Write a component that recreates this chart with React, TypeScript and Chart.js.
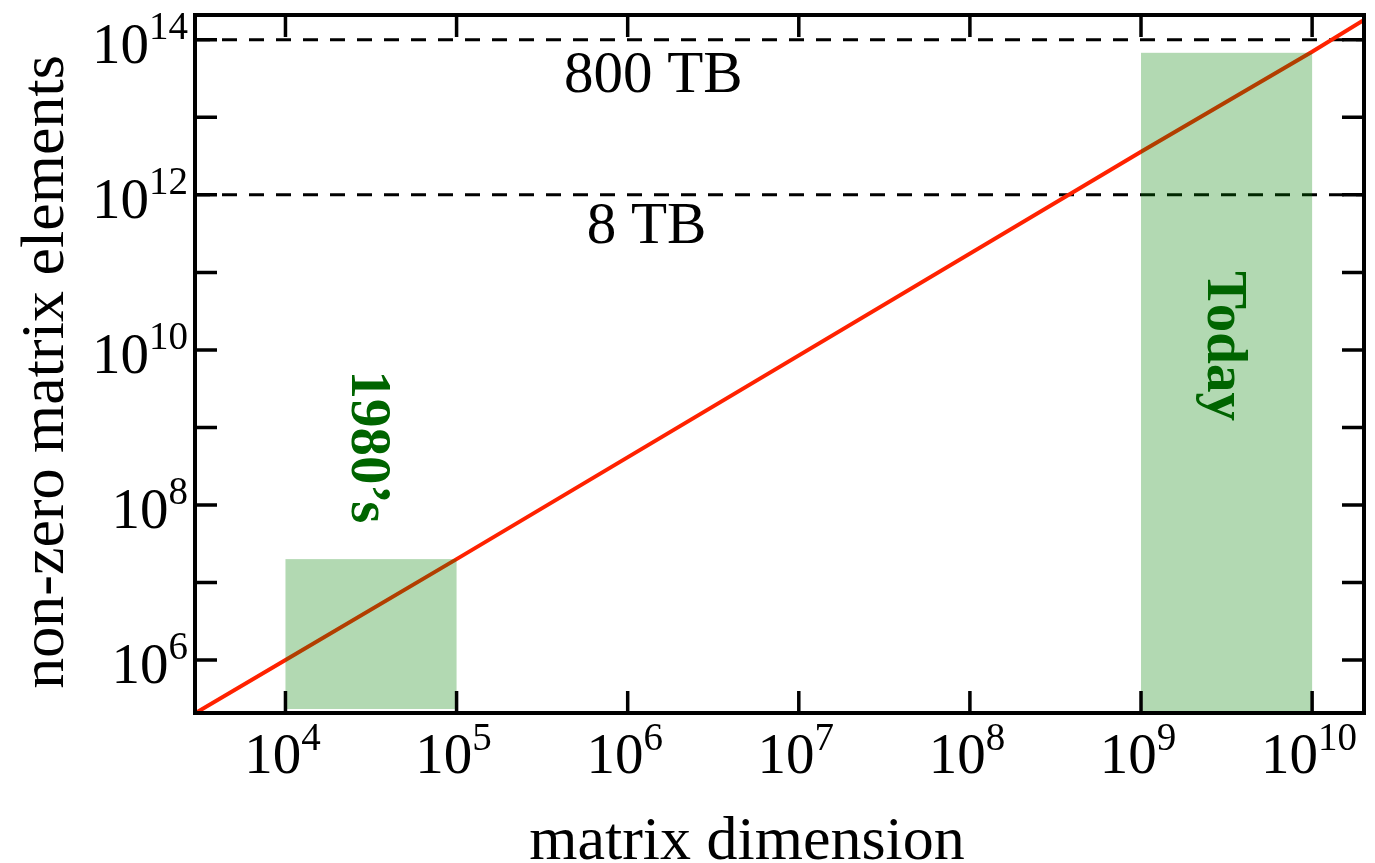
import React, { useEffect, useRef } from "react";
import { Chart, registerables } from "chart.js";

Chart.register(...registerables);

// Axis extents (log scales)
const xRange = [2.96e3, 2.01e10];
const yRange = [2.07e5, 2.09e14];

// Decade ticks on every side
const xTicks = [1e4, 1e5, 1e6, 1e7, 1e8, 1e9, 1e10];
const xTickExps = ["4", "5", "6", "7", "8", "9", "10"];
const yTicks = [1e6, 1e7, 1e8, 1e9, 1e10, 1e11, 1e12, 1e13, 1e14];
const yLabelTicks = [1e6, 1e8, 1e10, 1e12, 1e14];
const yLabelExps = ["6", "8", "10", "12", "14"];

// Growth of non-zero elements with matrix dimension
const growthX = [2.96e3, 1e4, 1e5, 1e9, 1e10, 2.01e10];
const growthY = [2.05e5, 1.0e6, 2.0e7, 3.6e12, 7.0e13, 1.81e14];

// Storage limits
const storageLevels = [1e12, 1e14];
const storageLabels = ["8 TB", "800 TB"];
const storageLabelX = [1.29e6, 1.41e6];
const storageLabelY = [2.4e11, 2.14e13];

// Eras of feasible problem sizes
const eraNames = ["1980\u2019s", "Today"];
const eraXStart = [1e4, 1e9];
const eraXEnd = [1e5, 1e10];
const eraYBottom = [2.33e5, 1e5];
const eraYTop = [2.0e7, 6.8e13];
const eraLabelX = [2.45e4, 2.45e9];
const eraLabelY = [5.6e8, 1.12e10];

const SERIF = "'Liberation Serif', 'Times New Roman', serif";

const decorPlugin = {
  id: "decor",
  afterDatasetsDraw(chart: any) {
    const { ctx, chartArea: a } = chart;
    const xs = chart.scales.x;
    const ys = chart.scales.y;

    // shaded era boxes
    ctx.save();
    ctx.beginPath();
    ctx.rect(a.left, a.top, a.right - a.left, a.bottom - a.top);
    ctx.clip();
    ctx.fillStyle = "rgba(0,128,0,0.3)";
    eraNames.forEach((_, i) => {
      const x0 = xs.getPixelForValue(eraXStart[i]);
      const x1 = xs.getPixelForValue(eraXEnd[i]);
      const y0 = ys.getPixelForValue(eraYTop[i]);
      const y1 = ys.getPixelForValue(eraYBottom[i]);
      ctx.fillRect(x0, y0, x1 - x0, y1 - y0);
    });
    ctx.restore();

    // era labels, rotated
    ctx.save();
    ctx.fillStyle = "#006400";
    ctx.font = `bold 57px ${SERIF}`;
    ctx.textAlign = "center";
    ctx.textBaseline = "alphabetic";
    eraNames.forEach((name, i) => {
      ctx.save();
      ctx.translate(xs.getPixelForValue(eraLabelX[i]), ys.getPixelForValue(eraLabelY[i]));
      ctx.rotate(Math.PI / 2);
      ctx.fillText(name, 0, 0);
      ctx.restore();
    });
    ctx.restore();

    // storage labels
    ctx.save();
    ctx.fillStyle = "#000";
    ctx.font = `59px ${SERIF}`;
    ctx.textAlign = "center";
    ctx.textBaseline = "alphabetic";
    storageLabels.forEach((t, i) => {
      ctx.fillText(t, xs.getPixelForValue(storageLabelX[i]), ys.getPixelForValue(storageLabelY[i]));
    });
    ctx.restore();

    // frame and inward ticks
    ctx.save();
    ctx.strokeStyle = "#000";
    ctx.lineWidth = 4;
    ctx.strokeRect(a.left, a.top, a.right - a.left, a.bottom - a.top);
    ctx.lineWidth = 3.5;
    const tl = 22;
    ctx.beginPath();
    xTicks.forEach((v) => {
      const px = xs.getPixelForValue(v);
      ctx.moveTo(px, a.bottom);
      ctx.lineTo(px, a.bottom - tl);
      ctx.moveTo(px, a.top);
      ctx.lineTo(px, a.top + tl);
    });
    yTicks.forEach((v) => {
      const py = ys.getPixelForValue(v);
      ctx.moveTo(a.left, py);
      ctx.lineTo(a.left + tl, py);
      ctx.moveTo(a.right, py);
      ctx.lineTo(a.right - tl, py);
    });
    ctx.stroke();
    ctx.restore();

    // tick labels: 10 with superscript exponent
    const mainFont = `57px ${SERIF}`;
    const supFont = `39px ${SERIF}`;
    ctx.save();
    ctx.fillStyle = "#000";
    ctx.textBaseline = "alphabetic";
    ctx.textAlign = "left";
    const measure = (exp: string) => {
      ctx.font = mainFont;
      const w1 = ctx.measureText("10").width;
      ctx.font = supFont;
      const w2 = ctx.measureText(exp).width;
      return [w1, w2];
    };
    xTicks.forEach((v, i) => {
      const exp = xTickExps[i];
      const [w1, w2] = measure(exp);
      const cx = xs.getPixelForValue(v) - 3;
      const left = cx - (w1 + w2) / 2;
      const base = a.bottom + 60;
      ctx.font = mainFont;
      ctx.fillText("10", left, base);
      ctx.font = supFont;
      ctx.fillText(exp, left + w1, base - 23);
    });
    yLabelTicks.forEach((v, i) => {
      const exp = yLabelExps[i];
      const [w1, w2] = measure(exp);
      const py = ys.getPixelForValue(v);
      const right = a.left - 7;
      const left = right - (w1 + w2);
      ctx.font = mainFont;
      ctx.fillText("10", left, py + 23);
      ctx.font = supFont;
      ctx.fillText(exp, left + w1, py - 1);
    });
    ctx.restore();

    // axis titles
    ctx.save();
    ctx.fillStyle = "#000";
    ctx.font = `62px ${SERIF}`;
    ctx.textAlign = "center";
    ctx.textBaseline = "alphabetic";
    ctx.fillText("matrix dimension", 747, 859);
    ctx.translate(63, 372);
    ctx.rotate(-Math.PI / 2);
    ctx.fillText("non-zero matrix elements", 0, 0);
    ctx.restore();
  },
};

export default function App() {
  const canvasRef = useRef<HTMLCanvasElement | null>(null);

  useEffect(() => {
    const canvas = canvasRef.current;
    if (!canvas) return;

    const growth = growthX.map((x, i) => ({ x, y: growthY[i] }));
    const storageSets = storageLevels.map((lvl) => ({
      label: "storage",
      data: [
        { x: xRange[0], y: lvl },
        { x: xRange[1], y: lvl },
      ],
      borderColor: "#000",
      borderWidth: 3,
      borderDash: [15, 12],
      pointRadius: 0,
      showLine: true,
      fill: false,
    }));

    const chart = new Chart(canvas, {
      type: "scatter",
      data: {
        datasets: [
          {
            label: "growth",
            data: growth,
            borderColor: "#ff2200",
            borderWidth: 4,
            pointRadius: 0,
            showLine: true,
            fill: false,
          },
          ...storageSets,
        ],
      },
      options: {
        animation: false,
        responsive: true,
        maintainAspectRatio: false,
        layout: { padding: { left: 195, top: 15, right: 11, bottom: 150 } },
        plugins: {
          legend: { display: false },
          tooltip: { enabled: false },
        },
        scales: {
          x: { type: "logarithmic", min: xRange[0], max: xRange[1], display: false },
          y: { type: "logarithmic", min: yRange[0], max: yRange[1], display: false },
        },
      },
      plugins: [decorPlugin],
    });

    return () => chart.destroy();
  }, []);

  return (
    <div style={{ position: "fixed", left: 0, top: 0, width: 1375, height: 863, background: "#fff" }}>
      <canvas ref={canvasRef} />
    </div>
  );
}
